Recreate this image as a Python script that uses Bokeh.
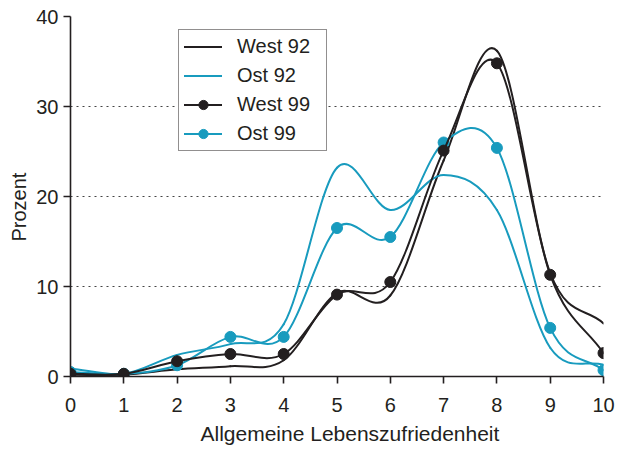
from bokeh.plotting import figure
from bokeh.models import Range1d, FixedTicker, Legend, LegendItem, Title, ColumnDataSource
from bokeh.embed import file_html
from bokeh.resources import INLINE

# ---- data ----
scores = [0, 1, 2, 3, 4, 5, 6, 7, 8, 9, 10]
west92 = [0.2, 0.2, 0.8, 1.15, 1.8, 9.3, 9.0, 24.0, 36.2, 11.5, 5.9]
ost92 = [0.9, 0.3, 2.4, 3.6, 5.8, 23.2, 18.5, 22.4, 18.5, 3.2, 1.3]
west99 = [0.3, 0.3, 1.7, 2.5, 2.5, 9.1, 10.5, 25.1, 34.8, 11.3, 2.6]
ost99 = [0.5, 0.3, 1.25, 4.4, 4.4, 16.5, 15.5, 26.0, 25.4, 5.4, 0.7]
x_ticks = [0, 1, 2, 3, 4, 5, 6, 7, 8, 9, 10]
y_ticks = [0, 10, 20, 30, 40]
grid_ticks = [10, 20, 30, 40]

BLACK = "#231f20"
CYAN = "#189bbe"
FONT = "Liberation Sans"


def smooth_segments(xs, ys):
    """Catmull-Rom tangents -> cubic Bezier segment control points (drawn by Bokeh's bezier glyph)."""
    n = len(ys)
    m = []
    for i in range(n):
        if i == 0:
            m.append((ys[1] - ys[0]) / (xs[1] - xs[0]))
        elif i == n - 1:
            m.append((ys[-1] - ys[-2]) / (xs[-1] - xs[-2]))
        else:
            m.append((ys[i + 1] - ys[i - 1]) / (xs[i + 1] - xs[i - 1]))
    d = dict(x0=[], y0=[], x1=[], y1=[], cx0=[], cy0=[], cx1=[], cy1=[])
    for i in range(n - 1):
        h = xs[i + 1] - xs[i]
        d["x0"].append(xs[i]); d["y0"].append(ys[i])
        d["x1"].append(xs[i + 1]); d["y1"].append(ys[i + 1])
        d["cx0"].append(xs[i] + h / 3); d["cy0"].append(ys[i] + m[i] * h / 3)
        d["cx1"].append(xs[i + 1] - h / 3); d["cy1"].append(ys[i + 1] - m[i + 1] * h / 3)
    return ColumnDataSource(d)


p = figure(width=618, height=449, x_range=Range1d(0, 10), y_range=Range1d(0, 40),
           output_backend="svg", toolbar_location=None,
           min_border_left=70, min_border_right=15, min_border_top=16, min_border_bottom=71)
p.outline_line_color = None
p.background_fill_color = "white"
p.border_fill_color = "white"

p.xgrid.visible = False
p.ygrid.ticker = FixedTicker(ticks=grid_ticks)
p.ygrid.grid_line_color = "#444444"
p.ygrid.grid_line_dash = "2 4"
p.ygrid.grid_line_width = 1.2

for ax in (p.xaxis[0], p.yaxis[0]):
    ax.axis_line_color = BLACK
    ax.axis_line_width = 1.6
    ax.major_tick_line_color = BLACK
    ax.major_tick_line_width = 1.6
    ax.major_tick_in = 0
    ax.major_tick_out = 7
    ax.minor_tick_line_color = None
    ax.major_label_text_font = FONT
    ax.major_label_text_font_size = "20px"
    ax.major_label_text_color = BLACK
p.xaxis.ticker = FixedTicker(ticks=x_ticks)
p.yaxis.ticker = FixedTicker(ticks=y_ticks)
p.xaxis.major_label_standoff = 14
p.yaxis.major_label_standoff = 5

seg_w92 = smooth_segments(scores, west92)
seg_o92 = smooth_segments(scores, ost92)
seg_w99 = smooth_segments(scores, west99)
seg_o99 = smooth_segments(scores, ost99)

r_w92 = p.bezier("x0", "y0", "x1", "y1", "cx0", "cy0", "cx1", "cy1", source=seg_w92,
                 line_color=BLACK, line_width=2, line_cap="round")
r_o92 = p.bezier("x0", "y0", "x1", "y1", "cx0", "cy0", "cx1", "cy1", source=seg_o92,
                 line_color=CYAN, line_width=2, line_cap="round")
r_o99 = p.bezier("x0", "y0", "x1", "y1", "cx0", "cy0", "cx1", "cy1", source=seg_o99,
                 line_color=CYAN, line_width=2, line_cap="round")
r_o99p = p.scatter(scores, ost99, size=11, fill_color=CYAN, line_color=CYAN)
r_w99 = p.bezier("x0", "y0", "x1", "y1", "cx0", "cy0", "cx1", "cy1", source=seg_w99,
                 line_color=BLACK, line_width=2, line_cap="round")
r_w99p = p.scatter(scores, west99, size=11, fill_color=BLACK, line_color=BLACK)

legend = Legend(items=[
    LegendItem(label="West 92", renderers=[r_w92]),
    LegendItem(label="Ost 92", renderers=[r_o92]),
    LegendItem(label="West 99", renderers=[r_w99, r_w99p]),
    LegendItem(label="Ost 99", renderers=[r_o99, r_o99p]),
], location=(108, 225))
legend.label_text_font = FONT
legend.label_text_font_size = "20px"
legend.label_text_color = BLACK
legend.border_line_color = BLACK
legend.border_line_width = 1.5
legend.background_fill_alpha = 1
legend.padding = 5
legend.spacing = 6
legend.margin = 0
legend.label_standoff = 15
legend.glyph_width = 38
legend.glyph_height = 23
legend.label_height = 23
legend.label_width = 84
p.add_layout(legend, "center")

xt = Title(text="Allgemeine Lebenszufriedenheit", align="left", offset=130,
           text_font=FONT, text_font_size="21px", text_font_style="normal",
           text_color=BLACK, standoff=10)
p.add_layout(xt, "below")
yt = Title(text="Prozent", align="left", offset=135,
           text_font=FONT, text_font_size="20px", text_font_style="normal",
           text_color=BLACK, standoff=8)
p.add_layout(yt, "left")

open("out.html", "w").write(file_html(p, INLINE))
